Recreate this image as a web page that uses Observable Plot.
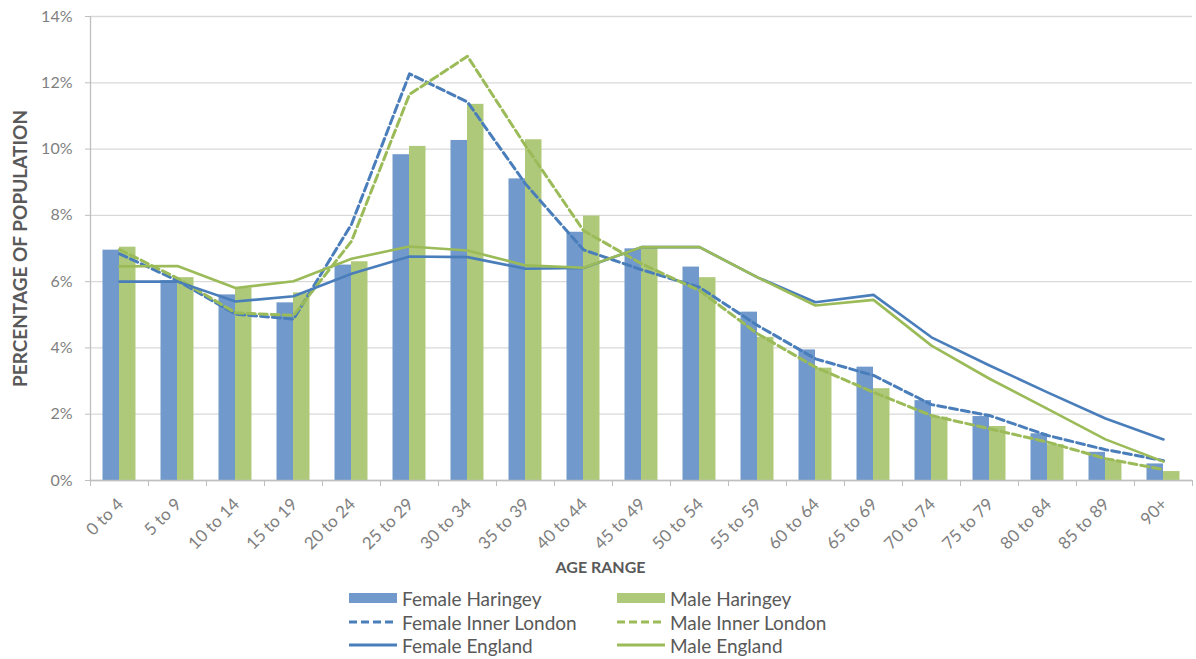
<!DOCTYPE html>
<html>
<head>
<meta charset="utf-8">
<script src="https://cdn.jsdelivr.net/npm/d3@7"></script>
<script src="https://cdn.jsdelivr.net/npm/@observablehq/plot@0.6"></script>
<style>
  html, body { margin: 0; padding: 0; background: #ffffff; }
  #wrap { position: relative; width: 1196px; height: 659px; font-family: Lato, "Open Sans", sans-serif; }
  #chart svg { display: block; }
  .leg { position: absolute; height: 22px; display: flex; align-items: center; font-size: 19px; color: #595959; white-space: nowrap; }
  .leg svg { margin-right: 5px; }
</style>
</head>
<body>
<div id="wrap">
  <div id="chart"></div>
  <div id="legend"></div>
</div>
<script>
// ---- data ----
const ageRanges = ["0 to 4","5 to 9","10 to 14","15 to 19","20 to 24","25 to 29","30 to 34","35 to 39","40 to 44","45 to 49","50 to 54","55 to 59","60 to 64","65 to 69","70 to 74","75 to 79","80 to 84","85 to 89","90+"];
const femaleHaringey    = [6.95, 6.03, 5.60, 5.36, 6.50, 9.83, 10.26, 9.10, 7.49, 6.99, 6.44, 5.08, 3.94, 3.42, 2.41, 1.93, 1.41, 0.85, 0.50];
const maleHaringey      = [7.04, 6.12, 5.81, 5.66, 6.60, 10.08, 11.35, 10.28, 7.98, 7.04, 6.12, 4.32, 3.39, 2.77, 1.91, 1.63, 1.08, 0.60, 0.27];
const femaleInnerLondon = [6.84, 6.03, 5.02, 4.87, 7.73, 12.27, 11.42, 8.95, 6.96, 6.36, 5.83, 4.68, 3.67, 3.17, 2.29, 1.96, 1.36, 0.93, 0.60];
const maleInnerLondon   = [6.97, 6.10, 5.06, 4.98, 7.22, 11.65, 12.80, 10.10, 7.54, 6.54, 5.73, 4.43, 3.42, 2.66, 1.96, 1.56, 1.16, 0.66, 0.33];
const femaleEngland     = [6.00, 6.00, 5.40, 5.56, 6.24, 6.76, 6.74, 6.39, 6.41, 7.04, 7.04, 6.13, 5.38, 5.60, 4.32, 3.47, 2.66, 1.87, 1.24];
const maleEngland       = [6.46, 6.47, 5.81, 6.01, 6.69, 7.06, 6.94, 6.49, 6.42, 7.04, 7.04, 6.13, 5.28, 5.45, 4.07, 3.07, 2.16, 1.24, 0.57];
const yTicks = [0, 2, 4, 6, 8, 10, 12, 14];
const yTitle = "PERCENTAGE OF POPULATION";
const xTitle = "AGE RANGE";
const seriesNames = ["Female Haringey","Male Haringey","Female Inner London","Male Inner London","Female England","Male England"];

// ---- styles ----
const BLUE_BAR = "#7199cc", GREEN_BAR = "#afc97a";
const BLUE_LINE = "#4a7ebb", GREEN_LINE = "#9bbb59";
const DASH = "8,4";

const rows = ageRanges.map((age, i) => ({
  age,
  fH: femaleHaringey[i], mH: maleHaringey[i],
  fIL: femaleInnerLondon[i], mIL: maleInnerLondon[i],
  fE: femaleEngland[i], mE: maleEngland[i]
}));

const W = 1196, H = 580;
const mL = 90, mR = 4, mT = 16, mB = 100;
const bw = (W - mL - mR) / ageRanges.length;
const barW = 16.5;

const chart = Plot.plot({
  width: W, height: H,
  marginLeft: mL, marginRight: mR, marginTop: mT, marginBottom: mB,
  style: { fontFamily: "Lato, 'Open Sans', sans-serif", background: "#ffffff" },
  x: { type: "band", domain: ageRanges, padding: 0 },
  y: { domain: [0, 14] },
  marks: [
    Plot.gridY({ ticks: yTicks, stroke: "#d9d9d9", strokeOpacity: 1, strokeWidth: 1.3 }),
    Plot.axisY({ ticks: yTicks, tickFormat: d => d + "%", tickSize: 5, tickPadding: 13, fontSize: 16,
                 stroke: "#bfbfbf", fill: "#7f7f7f", label: null }),
    Plot.axisX({ ticks: ageRanges, tickFormat: () => "", tickSize: 6, dx: -bw / 2, stroke: "#bfbfbf", label: null }),
    Plot.axisX({ ticks: [ageRanges[ageRanges.length - 1]], tickFormat: () => "", tickSize: 6, dx: bw / 2, stroke: "#bfbfbf", label: null }),
    Plot.axisX({ ticks: ageRanges, tickSize: 0, tickPadding: 21, tickRotate: -45, fontSize: 17, fill: "#7f7f7f", label: null, dx: 1 }),
    Plot.barY(rows, { x: "age", y: "fH", fill: BLUE_BAR, insetLeft: bw / 2 - barW, insetRight: bw / 2 }),
    Plot.barY(rows, { x: "age", y: "mH", fill: GREEN_BAR, insetLeft: bw / 2, insetRight: bw / 2 - barW }),
    Plot.ruleY([0], { stroke: "#bfbfbf", strokeWidth: 1.3 }),
    Plot.ruleX([ageRanges[0]], { dx: -bw / 2, stroke: "#bfbfbf", strokeWidth: 1.3 }),
    Plot.lineY(rows, { x: "age", y: "fIL", stroke: BLUE_LINE, strokeWidth: 3, strokeDasharray: DASH }),
    Plot.lineY(rows, { x: "age", y: "mIL", stroke: GREEN_LINE, strokeWidth: 3, strokeDasharray: DASH }),
    Plot.lineY(rows, { x: "age", y: "fE", stroke: BLUE_LINE, strokeWidth: 2.6 }),
    Plot.lineY(rows, { x: "age", y: "mE", stroke: GREEN_LINE, strokeWidth: 2.6 }),
    Plot.text([yTitle], { text: d => d, frameAnchor: "left", textAnchor: "middle", rotate: -90, dx: -70, fontSize: 19,
                          fontWeight: "bold", fill: "#595959" }),
    Plot.text([xTitle], { text: d => d, frameAnchor: "bottom", dx: -41, dy: 92, fontSize: 16,
                          fontWeight: "bold", fill: "#595959" })
  ]
});
document.getElementById("chart").appendChild(chart);

// ---- legend ----
const legend = document.getElementById("legend");
const legendItems = [
  { name: seriesNames[0], type: "bar",  color: BLUE_BAR,  left: 349, top: 598 },
  { name: seriesNames[1], type: "bar",  color: GREEN_BAR, left: 617, top: 598 },
  { name: seriesNames[2], type: "dash", color: BLUE_LINE, left: 349, top: 622 },
  { name: seriesNames[3], type: "dash", color: GREEN_LINE, left: 617, top: 622 },
  { name: seriesNames[4], type: "line", color: BLUE_LINE, left: 349, top: 645 },
  { name: seriesNames[5], type: "line", color: GREEN_LINE, left: 617, top: 645 }
];
for (const it of legendItems) {
  const d = document.createElement("div");
  d.className = "leg";
  d.style.left = it.left + "px";
  d.style.top = (it.top - 11) + "px";
  let sw;
  if (it.type === "bar") {
    sw = `<svg width="48" height="12"><rect x="0" y="1" width="48" height="10" fill="${it.color}"/></svg>`;
  } else {
    sw = `<svg width="48" height="12"><line x1="0" x2="48" y1="6" y2="6" stroke="${it.color}" stroke-width="3" ${it.type === "dash" ? `stroke-dasharray="${DASH}"` : ""}/></svg>`;
  }
  d.innerHTML = sw + `<span>${it.name}</span>`;
  legend.appendChild(d);
}
</script>
</body>
</html>
